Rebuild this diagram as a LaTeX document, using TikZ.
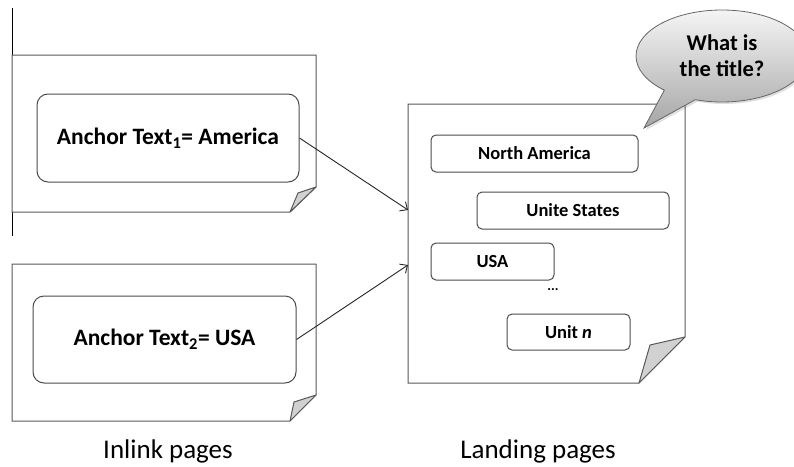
\documentclass[tikz,border=0pt]{standalone}
\usepackage{fontspec}
\setmainfont{Carlito}
\usetikzlibrary{arrows.meta,shapes.callouts,shadows}
\begin{document}
\begin{tikzpicture}[x=1pt,y=-1pt,
  pageedge/.style={draw=black!65, line width=1pt, fill=white, line join=miter},
  foldtri/.style={draw=black!65, line width=1pt, fill=black!18, line join=round},
  bigbox/.style={draw=black!70, line width=1pt, rounded corners=11pt, inner sep=0pt,
    font=\bfseries\fontsize{23.5}{28}\selectfont},
  smallbox/.style={draw=black!70, line width=1pt, rounded corners=5pt, inner sep=0pt,
    font=\bfseries\fontsize{18.5}{22}\selectfont},
  link/.style={draw=black!85, line width=0.9pt, -{Straight Barb[length=6pt,width=11pt]}},
  caption/.style={font=\fontsize{27}{32}\selectfont}
]
\useasboundingbox (0,0) rectangle (794,466);

% inlink page 1
\draw (12,8) -- (12,236);
\draw[pageedge] (12,55) -- (316,55) -- (316,187) -- (290,212) -- (12,212) -- cycle;
\draw[foldtri] (290,212) -- (298,193) -- (316,187) -- cycle;
\node[bigbox, minimum width=262pt, minimum height=88pt] (a1) at (168,138) {Anchor Text\textsubscript{1}= America};

% inlink page 2
\draw[pageedge] (12,264) -- (316,264) -- (316,395) -- (290,421) -- (12,421) -- cycle;
\draw[foldtri] (290,421) -- (294,402) -- (316,395) -- cycle;
\node[bigbox, minimum width=263pt, minimum height=87pt] (a2) at (164.5,339.5) {Anchor Text\textsubscript{2}= USA};

% landing page
\draw[pageedge] (408,104) -- (685,104) -- (685,337) -- (639,383) -- (408,383) -- cycle;
\draw[foldtri] (639,383) -- (650,345) -- (685,337) -- cycle;
\node[smallbox, minimum width=207pt, minimum height=37pt] (na) at (534.5,153.5) {North America};
\node[smallbox, minimum width=192pt, minimum height=37pt] (us) at (573,210.5) {Unite States};
\node[smallbox, minimum width=123pt, minimum height=37pt] (usa) at (492.5,261.5) {USA};
\node[font=\bfseries\fontsize{14}{16}\selectfont] (dots) at (553,290) {...};
\node[smallbox, minimum width=123pt, minimum height=36pt] (un) at (568.5,332) {Unit \textit{n}};

% speech bubble
\node[ellipse callout, draw=black!60, line width=0.8pt, top color=black!4, bottom color=black!35,
  minimum width=172pt, minimum height=92pt, callout absolute pointer={(644,128)},
  callout pointer arc=24, align=center, inner sep=0pt,
  drop shadow={opacity=0.25, shadow xshift=2pt, shadow yshift=-2pt},
  font=\bfseries\fontsize{22.5}{26}\selectfont] (q) at (722,56) {What is\\the title?};

% connectors
\coordinate (in1) at (408,210);
\coordinate (in2) at (408,265);
\draw[link] (a1.east) -- (in1);
\draw[link] (a2.east) -- (in2);

% captions
\node[caption] (c1) at (168,451) {Inlink pages};
\node[caption] (c2) at (538,451) {Landing pages};
\end{tikzpicture}
\end{document}
